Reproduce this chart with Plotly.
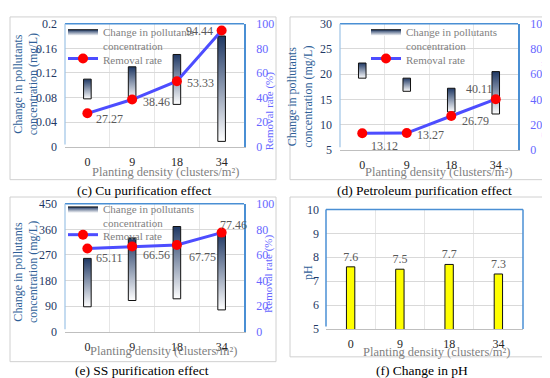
import plotly.graph_objects as go

categories = ['0', '9', '18', '34']

cu_low = [0.078, 0.078, 0.069, 0.009]
cu_high = [0.110, 0.130, 0.150, 0.180]
cu_rate = [27.27, 38.46, 53.33, 94.44]

pet_low = [19.2, 16.6, 12.5, 12.1]
pet_high = [22.2, 19.2, 17.2, 20.5]
pet_rate = [13.12, 13.27, 26.79, 40.11]

ss_low = [88, 110, 116, 77]
ss_high = [258, 330, 370, 348]
ss_rate = [65.11, 66.56, 67.75, 77.46]

ph_values = [7.6, 7.5, 7.7, 7.3]

W, H = 550, 378
FONT = "Liberation Serif, Times New Roman, DejaVu Serif, serif"
NAVY = "#1f3864"
TITLE_BLUE = "#2f5f98"
RIGHT_BLUE = "#6666ff"
GRID = "#d9d9d9"
BORDER_BLUE = "#4a8fd4"
GRAY_TXT = "#7f7f7f"
LINE_COL = "#4d4dff"


def px(x):
    return x / W


def py(y):
    return 1 - y / H


fig = go.Figure()
annotations = []
shapes = []

BAR_HALF = 0.085

panels = [
    dict(xa=1, yl=1, yr=2, low=cu_low, high=cu_high, rate=cu_rate,
         xd=(57, 236), yd=(9, 137), yrange=[0, 0.2], dtick=0.04,
         leg_bar='legend', leg_line='legend4', legx=55, bar_y=25, line_y=46,
         offs=[(22, -6), (24, -2), (24, -2), (-22, 0)]),
    dict(xa=2, yl=3, yr=4, low=pet_low, high=pet_high, rate=pet_rate,
         xd=(332, 510), yd=(9, 140), yrange=[5, 30], dtick=5,
         leg_bar='legend2', leg_line='legend5', legx=358, bar_y=25, line_y=46,
         offs=[(22, -13), (24, -2), (24, -5), (-16, 10)]),
    dict(xa=3, yl=5, yr=6, low=ss_low, high=ss_high, rate=ss_rate,
         xd=(57, 236), yd=(196, 329), yrange=[0, 450], dtick=90,
         leg_bar='legend3', leg_line='legend6', legx=55, bar_y=209, line_y=229,
         offs=[(22, -10), (24, -8), (26, -12), (12, 8)]),
]

layout = {}


def xaxis_cfg(xd, anchor):
    return dict(domain=[px(xd[0]), px(xd[1])], anchor=anchor, range=[-0.5, 3.5],
                tickmode='array', tickvals=[0, 1, 2, 3], ticktext=categories,
                showgrid=False, zeroline=False, showline=True, linecolor='#bfbfbf',
                ticks='', ticklabelstandoff=4,
                tickfont=dict(family=FONT, size=12, color='#262626'),
                minor=dict(tickmode='array', tickvals=[-0.5, 0.5, 1.5, 2.5, 3.5],
                           showgrid=True, gridcolor='#e6e6e6', ticks=''),
                fixedrange=True)


def legend_cfg(x, y):
    return dict(x=px(x), y=py(y), xanchor='left', yanchor='middle',
                bgcolor='rgba(0,0,0,0)', valign='top',
                font=dict(family=FONT, size=11, color=GRAY_TXT),
                tracegroupgap=0, itemwidth=30, traceorder='normal')


for p in panels:
    xa = 'x' if p['xa'] == 1 else f"x{p['xa']}"
    yl = 'y' if p['yl'] == 1 else f"y{p['yl']}"
    yr = f"y{p['yr']}"
    xkey = 'xaxis' if p['xa'] == 1 else f"xaxis{p['xa']}"
    ylkey = 'yaxis' if p['yl'] == 1 else f"yaxis{p['yl']}"
    yrkey = f"yaxis{p['yr']}"
    ydom = [py(p['yd'][1]), py(p['yd'][0])]
    layout[xkey] = xaxis_cfg(p['xd'], yl)
    layout[ylkey] = dict(domain=ydom, anchor=xa, range=p['yrange'], dtick=p['dtick'],
                         tick0=p['yrange'][0], showgrid=True, gridcolor=GRID,
                         zeroline=False, showline=False, ticks='', ticklabelstandoff=7,
                         tickfont=dict(family=FONT, size=12, color=NAVY), fixedrange=True)
    layout[yrkey] = dict(overlaying=yl, side='right', anchor=xa, range=[0, 100], dtick=20,
                         showgrid=False, zeroline=False, showline=True,
                         linecolor=BORDER_BLUE, linewidth=1.5, ticks='', ticklabelstandoff=8,
                         tickfont=dict(family=FONT, size=12, color=RIGHT_BLUE), fixedrange=True)

    for i, (lo, hi) in enumerate(zip(p['low'], p['high'])):
        fig.add_trace(go.Scatter(
            x=[i - BAR_HALF, i + BAR_HALF, i + BAR_HALF, i - BAR_HALF, i - BAR_HALF],
            y=[lo, lo, hi, hi, lo],
            mode='lines', fill='toself',
            fillgradient=dict(type='vertical', colorscale=[[0, '#ffffff'], [1, NAVY]]),
            line=dict(color='#111111', width=1),
            xaxis=xa, yaxis=yl,
            name='Change in pollutants<br>concentration',
            showlegend=(i == 0), legend=p['leg_bar'], hoverinfo='skip'))

    fig.add_trace(go.Scatter(
        x=[0, 1, 2, 3], y=p['rate'], mode='lines+markers',
        line=dict(color=LINE_COL, width=3),
        marker=dict(color='#ff0000', size=10),
        xaxis=xa, yaxis=yr, name='Removal rate', legend=p['leg_line']))

    for i, (v, (dx, dy)) in enumerate(zip(p['rate'], p['offs'])):
        annotations.append(dict(x=i, y=v, xref=xa, yref=yr, text=f"{v:.2f}",
                                showarrow=False, xshift=dx, yshift=dy,
                                xanchor='center', yanchor='middle',
                                font=dict(family=FONT, size=12, color='#595959')))

    layout[p['leg_bar']] = legend_cfg(p['legx'], p['bar_y'])
    layout[p['leg_line']] = legend_cfg(p['legx'], p['line_y'])

    shapes.append(dict(type='line', xref=f"{xa} domain", yref=f"{yl} domain",
                       x0=0, x1=1, y0=1, y1=1, line=dict(color=BORDER_BLUE, width=1.5)))
    shapes.append(dict(type='line', xref=f"{xa} domain", yref=f"{yl} domain",
                       x0=0, x1=0, y0=0.02, y1=1, line=dict(color='#9dc3e6', width=1.2)))

# pH panel
layout['xaxis4'] = xaxis_cfg((318, 515), 'y7')
layout['yaxis7'] = dict(domain=[py(326), py(202)], anchor='x4', range=[5, 10], dtick=1,
                        showgrid=True, gridcolor=GRID, zeroline=False, showline=False,
                        ticks='', ticklabelstandoff=6,
                        tickfont=dict(family=FONT, size=12, color=NAVY), fixedrange=True)
fig.add_trace(go.Bar(x=[0, 1, 2, 3], y=ph_values, base=0, width=0.17,
                     marker=dict(color='#ffff00', line=dict(color='#111111', width=1)),
                     text=[f"{v}" for v in ph_values], textposition='outside',
                     constraintext='none',
                     textfont=dict(family=FONT, size=12, color='#595959'),
                     cliponaxis=False, xaxis='x4', yaxis='y7', showlegend=False))
shapes.append(dict(type='line', xref='x4 domain', yref='y7 domain',
                   x0=0, x1=1, y0=1, y1=1, line=dict(color=BORDER_BLUE, width=1.5)))
shapes.append(dict(type='line', xref='x4 domain', yref='y7 domain',
                   x0=1, x1=1, y0=0, y1=1, line=dict(color=BORDER_BLUE, width=1.5)))
shapes.append(dict(type='line', xref='x4 domain', yref='y7 domain',
                   x0=0, x1=0, y0=0.02, y1=1, line=dict(color=BORDER_BLUE, width=1.5)))

for (x0, y0, x1, y1) in [(2, 2, 268, 171), (282, 2, 547, 171), (2, 189, 268, 360), (282, 189, 545, 355)]:
    shapes.append(dict(type='rect', xref='paper', yref='paper', x0=px(x0), x1=px(x1),
                       y0=py(y1), y1=py(y0), line=dict(color='#d0d0d0', width=1), layer='below'))


def ann(cx, cy, text, size, color, angle=0):
    annotations.append(dict(x=px(cx), y=py(cy), xref='paper', yref='paper', text=text,
                            textangle=angle, showarrow=False, xanchor='center',
                            yanchor='middle', font=dict(family=FONT, size=size, color=color)))


for (cx, cy, txt) in [(136, 182, '(c) Cu purification effect'),
                      (416, 182, '(d) Petroleum purification effect'),
                      (134, 369, '(e) SS purification effect'),
                      (414, 369, '(f) Change in pH')]:
    ann(cx, cy, txt, 13.5, '#000000')

for (cx, cy) in [(157, 163), (430, 163), (155, 349), (428, 350)]:
    ann(cx, cy, 'Planting density (clusters/m²)', 12.5, GRAY_TXT)

for (cx, cy) in [(18, 72), (292, 85), (18, 267)]:
    ann(cx, cy, 'Change in pollutants<br>concentration (mg/L)', 12, TITLE_BLUE, -90)
ann(300, 268, 'pH', 12, TITLE_BLUE, -90)

for (cx, cy) in [(261, 100), (538, 87), (260, 269)]:
    ann(cx, cy, 'Removal rate (%)', 11, RIGHT_BLUE, -90)

fig.update_layout(width=W, height=H, margin=dict(l=0, r=0, t=0, b=0),
                  paper_bgcolor='white', plot_bgcolor='white',
                  annotations=annotations, shapes=shapes, **layout)

fig.write_html("out.html")
